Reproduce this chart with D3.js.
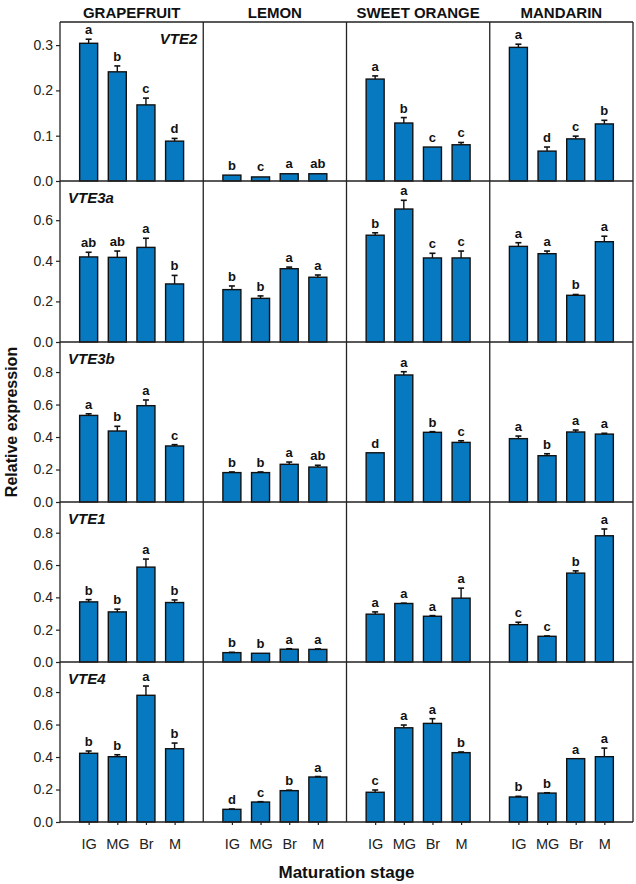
<!DOCTYPE html>
<html><head><meta charset="utf-8">
<script src="https://cdn.jsdelivr.net/npm/d3@7"></script>
<style>body{margin:0;background:#fff}svg{display:block}text{font-family:Arial,"Liberation Sans",sans-serif}</style>
</head><body><svg id="c" width="636" height="884"></svg>
<script>
const fruits = ["GRAPEFRUIT", "LEMON", "SWEET ORANGE", "MANDARIN"];
const stages = ["IG", "MG", "Br", "M"];
const genes = ["VTE2", "VTE3a", "VTE3b", "VTE1", "VTE4"];
const yMax = [0.351, 0.793, 0.985, 0.99, 0.985];
const yTicks = [[0,0.1,0.2,0.3],[0,0.2,0.4,0.6],[0,0.2,0.4,0.6,0.8],[0,0.2,0.4,0.6,0.8],[0,0.2,0.4,0.6,0.8]];

// values[gene][fruit][stage]
const means = [
  [[0.304,0.241,0.168,0.088],[0.013,0.009,0.016,0.016],[0.225,0.128,0.075,0.080],[0.295,0.066,0.093,0.126]],
  [[0.419,0.417,0.466,0.286],[0.258,0.215,0.361,0.319],[0.526,0.655,0.414,0.414],[0.471,0.435,0.230,0.494]],
  [[0.533,0.437,0.593,0.345],[0.181,0.181,0.232,0.215],[0.303,0.782,0.429,0.367],[0.390,0.285,0.431,0.418]],
  [[0.372,0.310,0.587,0.368],[0.058,0.054,0.079,0.078],[0.296,0.362,0.283,0.395],[0.231,0.159,0.550,0.781]],
  [[0.423,0.402,0.780,0.451],[0.078,0.123,0.193,0.277],[0.183,0.580,0.607,0.427],[0.154,0.178,0.390,0.402]]
];
const errors = [
  [[0.009,0.013,0.015,0.006],[0.001,0.001,0.001,0.001],[0.007,0.012,0.001,0.005],[0.007,0.009,0.006,0.008]],
  [[0.023,0.031,0.045,0.042],[0.018,0.012,0.008,0.011],[0.012,0.043,0.023,0.034],[0.018,0.013,0.004,0.027]],
  [[0.010,0.029,0.035,0.008],[0.004,0.004,0.014,0.011],[0.000,0.020,0.004,0.010],[0.016,0.012,0.012,0.005]],
  [[0.014,0.017,0.050,0.016],[0.002,0.001,0.003,0.003],[0.014,0.002,0.004,0.062],[0.015,0.002,0.014,0.042]],
  [[0.014,0.012,0.057,0.035],[0.002,0.002,0.003,0.003],[0.014,0.017,0.029,0.004],[0.004,0.002,0.000,0.053]]
];
const letters = [
  [["a","b","c","d"],["b","c","a","ab"],["a","b","c","c"],["a","d","c","b"]],
  [["ab","ab","a","b"],["b","b","a","a"],["b","a","c","c"],["a","a","b","a"]],
  [["a","b","a","c"],["b","b","a","ab"],["d","a","b","c"],["a","b","a","a"]],
  [["b","b","a","b"],["b","b","a","a"],["a","a","a","a"],["c","c","b","a"]],
  [["b","b","a","b"],["d","c","b","a"],["c","a","a","b"],["b","b","a","a"]]
];

const svg = d3.select("#c");
const left = 60, right = 633;
const rowEdges = [22, 181, 342, 502, 662, 822];
const colX = d3.scaleBand().domain(fruits).range([left, right]);
const xIn = d3.scalePoint().domain(stages).range([0, colX.bandwidth()]).padding(1);
const barW = 18;
const blue = "#0779c1";
const lineCol = "#222";

genes.forEach((g, r) => {
  const y = d3.scaleLinear().domain([0, yMax[r]]).range([rowEdges[r+1], rowEdges[r]]);
  // y axis
  const ax = svg.append("g").attr("transform", `translate(${left},0)`)
    .call(d3.axisLeft(y).tickValues(yTicks[r]).tickFormat(d3.format(".1f")).tickSize(4).tickSizeOuter(0));
  ax.select(".domain").remove();
  ax.selectAll("line").attr("stroke", lineCol).attr("stroke-width", 1.2);
  ax.selectAll("text").attr("font-size", 14).attr("fill", "#222").attr("x", -7);

  fruits.forEach((f, c) => {
    const gx = colX(f);
    const grp = svg.append("g").attr("transform", `translate(${gx},0)`);
    const data = stages.map((s, i) => ({s, v: means[r][c][i], e: errors[r][c][i], l: letters[r][c][i]}));
    grp.selectAll("rect").data(data).join("rect")
      .attr("x", d => xIn(d.s) - barW/2).attr("width", barW)
      .attr("y", d => y(d.v)).attr("height", d => y(0) - y(d.v))
      .attr("fill", blue).attr("stroke", "#111").attr("stroke-width", 1.4);
    const eb = grp.selectAll("g.eb").data(data.filter(d => d.e > 0.0015)).join("g").attr("class","eb");
    eb.append("line").attr("x1", d => xIn(d.s)).attr("x2", d => xIn(d.s))
      .attr("y1", d => y(d.v)).attr("y2", d => y(d.v + d.e)).attr("stroke", "#111").attr("stroke-width", 1.4);
    eb.append("line").attr("x1", d => xIn(d.s) - 3).attr("x2", d => xIn(d.s) + 3)
      .attr("y1", d => y(d.v + d.e)).attr("y2", d => y(d.v + d.e)).attr("stroke", "#111").attr("stroke-width", 1.6);
    grp.selectAll("text.lt").data(data).join("text").attr("class","lt")
      .attr("x", d => xIn(d.s)).attr("y", d => y(d.v + d.e) - 5)
      .attr("text-anchor", "middle").attr("font-size", 13).attr("font-weight", "bold").attr("fill", "#111")
      .text(d => d.l);
    if (r === genes.length - 1) {
      const xa = svg.append("g").attr("transform", `translate(${gx},${rowEdges[r+1]})`)
        .call(d3.axisBottom(xIn).tickSize(3).tickSizeOuter(0));
      xa.select(".domain").remove();
      xa.selectAll("line").attr("stroke", lineCol).attr("stroke-width", 1.2);
      xa.selectAll("text").attr("font-size", 14.5).attr("fill", "#222").attr("y", 17);
    }
  });
  // gene label
  const first = r === 0;
  svg.append("text")
    .attr("x", first ? colX(fruits[0]) + colX.bandwidth() - 6 : left + 8)
    .attr("y", rowEdges[r] + (first ? 22 : 22))
    .attr("text-anchor", first ? "end" : "start")
    .attr("font-size", 15).attr("font-weight", "bold").attr("font-style", "italic").attr("fill", "#111")
    .text(g);
  // row baseline
  svg.append("line").attr("x1", left).attr("x2", right).attr("y1", rowEdges[r+1]).attr("y2", rowEdges[r+1])
    .attr("stroke", lineCol).attr("stroke-width", 1.3);
});

// frame
svg.append("line").attr("x1", left).attr("x2", right).attr("y1", rowEdges[0]).attr("y2", rowEdges[0]).attr("stroke", lineCol).attr("stroke-width", 1.3);
fruits.forEach((f, c) => {
  svg.append("line").attr("x1", colX(f)).attr("x2", colX(f)).attr("y1", rowEdges[0]).attr("y2", rowEdges[5]).attr("stroke", lineCol).attr("stroke-width", 1.3);
  svg.append("text").attr("x", colX(f) + colX.bandwidth()/2).attr("y", 18)
    .attr("text-anchor", "middle").attr("font-size", 15).attr("font-weight", "bold").attr("fill", "#111").text(f);
});
svg.append("line").attr("x1", right).attr("x2", right).attr("y1", rowEdges[0]).attr("y2", rowEdges[5]).attr("stroke", lineCol).attr("stroke-width", 1.3);

svg.append("text").attr("x", (left + right)/2).attr("y", 878).attr("text-anchor", "middle")
  .attr("font-size", 17).attr("font-weight", "bold").attr("fill", "#111").text("Maturation stage");
svg.append("text").attr("transform", `translate(17,${(rowEdges[0]+rowEdges[5])/2}) rotate(-90)`)
  .attr("text-anchor", "middle").attr("font-size", 16).attr("font-weight", "bold").attr("fill", "#111").text("Relative expression");
</script></body></html>
